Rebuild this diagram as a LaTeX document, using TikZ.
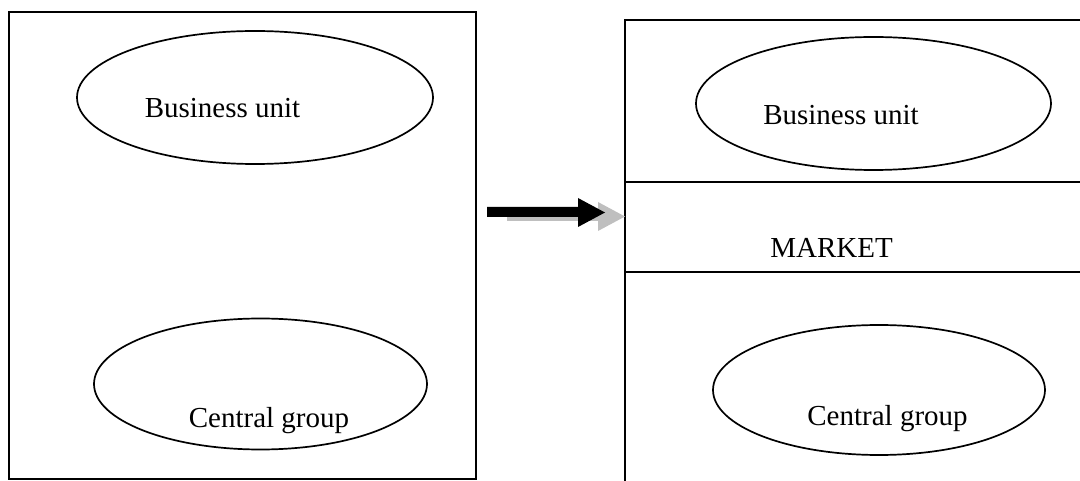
\documentclass[tikz,border=0pt]{standalone}
\usepackage{fontspec}
\setmainfont{Liberation Serif}
\usetikzlibrary{shapes.geometric}
\begin{document}
\begin{tikzpicture}[x=1pt,y=-1pt,
  boxline/.style={line width=2.2pt},
  oval/.style={ellipse,draw,line width=1.7pt,inner sep=0pt},
  lbl/.style={anchor=base,font=\fontsize{29}{32}\selectfont,inner sep=0pt},
  blockarrow/.style={fill=black},
  arrowshadow/.style={fill=gray!50}]
\useasboundingbox (0,0) rectangle (1080,481);
% left box
\node[boxline,draw,rectangle,minimum width=467pt,minimum height=467pt,inner sep=0pt] (lbox) at (242.5,245.5) {};
% right box (open on right and bottom)
\coordinate (rtopR) at (1082,20);
\coordinate (rtopL) at (625,20);
\coordinate (rbotL) at (625,483);
\draw[boxline] (rtopR) -- (rtopL) -- (rbotL);
\coordinate (m1L) at (625,182);
\coordinate (m1R) at (1082,182);
\coordinate (m2L) at (625,272);
\coordinate (m2R) at (1082,272);
\draw[boxline] (m1L) -- (m1R);
\draw[boxline] (m2L) -- (m2R);
% ellipses
\node[oval,minimum width=356pt,minimum height=133pt] (lbu) at (255,97.5) {};
\node[oval,minimum width=333pt,minimum height=131pt] (lcg) at (260.5,384) {};
\node[oval,minimum width=355pt,minimum height=133pt] (rbu) at (873.5,103.5) {};
\node[oval,minimum width=332pt,minimum height=130pt] (rcg) at (879,390) {};
% labels
\node[lbl] (tlbu) at (222.5,118) {Business unit};
\node[lbl] (tlcg) at (269,427) {Central group};
\node[lbl] (trbu) at (841,125) {Business unit};
\node[lbl] (trcg) at (887.5,425) {Central group};
\node[lbl] (tmk) at (831.5,258) {MARKET};
% arrow with shadow
\begin{scope}[shift={(20,4)}]
\fill[arrowshadow] (487,207) -- (578,207) -- (578,198) -- (605,212.5) -- (578,227) -- (578,217) -- (487,217) -- cycle;
\end{scope}
\fill[blockarrow] (487,207) -- (578,207) -- (578,198) -- (605,212.5) -- (578,227) -- (578,217) -- (487,217) -- cycle;
\end{tikzpicture}
\end{document}
